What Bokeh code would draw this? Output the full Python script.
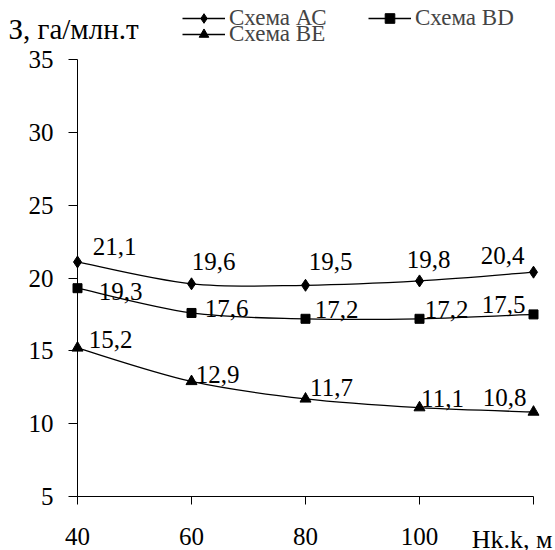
from bokeh.plotting import figure
from bokeh.models import Range1d, FixedTicker, Label, Legend, LegendItem, ColumnDataSource
from bokeh.embed import file_html
from bokeh.resources import INLINE
from bokeh.core.properties import value

# ---- data ----
depth = [40, 60, 80, 100, 120]
scheme_ac = [21.1, 19.6, 19.5, 19.8, 20.4]
scheme_bd = [19.3, 17.6, 17.2, 17.2, 17.5]
scheme_be = [15.2, 12.9, 11.7, 11.1, 10.8]
series_names = ["Схема АС", "Схема BD", "Схема BE"]
x_ticks = [40, 60, 80, 100, 120]
y_ticks = [5, 10, 15, 20, 25, 30, 35]
y_title = "З, га/млн.т"
x_title = "Hk.k, м"

# label placement (screen px offsets of text centre from point, style only)
off_ac = ([37, 22, 25, 9, -31], [-15, -22, -24, -21, -17])
off_bd = ([43, 35, 31, 27, -30], [3, -4, -9, -9, -10])
off_be = ([33, 26, 26, 23, -29], [-8, -7, -11, -9, -15])

FONT = "Liberation Serif"
W, H = 555, 550
# axis box in pixels (layout)
AX_L, AX_R, AX_T, AX_B = 77, 533, 59, 496
X0, X1, Y0, Y1 = 40, 120, 5, 35
sx = (AX_R - AX_L) / (X1 - X0)
sy = (AX_B - AX_T) / (Y1 - Y0)

p = figure(width=W, height=H, title=None,
           x_range=Range1d(X0 - AX_L / sx, X0 + (W - AX_L) / sx),
           y_range=Range1d(Y0 - (H - AX_B) / sy, Y0 + AX_B / sy),
           output_backend="svg", toolbar_location=None,
           min_border_left=0, min_border_right=0, min_border_top=0, min_border_bottom=0)
p.outline_line_color = None
p.xgrid.visible = False
p.ygrid.visible = False
p.background_fill_color = "white"
p.border_fill_color = "white"

for ax in (p.xaxis[0], p.yaxis[0]):
    ax.axis_line_color = "black"
    ax.axis_line_width = 1
    ax.major_tick_line_color = "black"
    ax.major_tick_in = 0
    ax.minor_tick_line_color = None
    ax.major_label_text_font = FONT
    ax.major_label_text_font_size = "25px"
    ax.major_label_text_color = "black"

p.xaxis.ticker = FixedTicker(ticks=x_ticks)
p.xaxis.major_label_overrides = {120: ""}
p.xaxis.major_tick_out = 8
p.xaxis.major_label_standoff = 23
p.xaxis.bounds = (X0, X1)
p.xaxis.fixed_location = Y0
p.yaxis.ticker = FixedTicker(ticks=y_ticks)
p.yaxis.major_tick_out = 9
p.yaxis.major_label_standoff = 15
p.yaxis.bounds = (Y0, Y1)
p.yaxis.fixed_location = X0


def smooth_segments(xs, ys):
    n = len(xs)
    d = dict(x0=[], y0=[], x1=[], y1=[], cx0=[], cy0=[], cx1=[], cy1=[])
    for i in range(n - 1):
        xp, yp = (xs[i - 1], ys[i - 1]) if i > 0 else (xs[i], ys[i])
        xn, yn = (xs[i + 2], ys[i + 2]) if i + 2 < n else (xs[i + 1], ys[i + 1])
        d["x0"].append(xs[i]); d["y0"].append(ys[i])
        d["x1"].append(xs[i + 1]); d["y1"].append(ys[i + 1])
        d["cx0"].append(xs[i] + (xs[i + 1] - xp) / 6.0)
        d["cy0"].append(ys[i] + (ys[i + 1] - yp) / 6.0)
        d["cx1"].append(xs[i + 1] - (xn - xs[i]) / 6.0)
        d["cy1"].append(ys[i + 1] - (yn - ys[i]) / 6.0)
    return ColumnDataSource(d)


items = []
for name, ys, mk, ms, offs in [(series_names[0], scheme_ac, "diamond", 12, off_ac),
                               (series_names[1], scheme_bd, "square", 9, off_bd),
                               (series_names[2], scheme_be, "triangle", 11, off_be)]:
    src = smooth_segments(depth, ys)
    ln = p.bezier(x0="x0", y0="y0", x1="x1", y1="y1", cx0="cx0", cy0="cy0", cx1="cx1", cy1="cy1",
                  source=src, line_color="black", line_width=1.3)
    sc = p.scatter(depth, ys, marker=mk, size=ms, color="black")
    lab_src = ColumnDataSource(dict(x=depth, y=ys,
                                    t=[("%.1f" % v).replace(".", ",") for v in ys],
                                    dx=offs[0], dy=offs[1]))
    p.text(x="x", y="y", text="t", x_offset="dx", y_offset="dy", source=lab_src,
           text_font=value(FONT), text_font_size="25px", text_align="center",
           text_baseline="middle", text_color="black")
    items.append(LegendItem(label=name, renderers=[ln, sc]))

common = dict(orientation="horizontal", padding=0, margin=0, border_line_color=None,
              background_fill_alpha=0, glyph_width=43, glyph_height=24, label_standoff=4,
              label_text_font=FONT, label_text_font_size="23px", label_height=15,
              label_width=100, spacing=39)
leg1 = Legend(items=[items[0], items[1]], location=(182, H - 31), **common)
leg2 = Legend(items=[items[2]], location=(182, H - 47), **common)
p.add_layout(leg1)
p.add_layout(leg2)

p.add_layout(Label(x=X0, y=Y1, x_offset=8 - AX_L, y_offset=AX_T - 28, text=y_title, text_font=FONT,
                   text_font_size="29px", text_align="left", text_baseline="middle",
                   text_color="black"))
p.add_layout(Label(x=X1, y=Y0, x_offset=552 - AX_R, y_offset=AX_B - 539, text=x_title, text_font=FONT,
                   text_font_size="26px", text_align="right", text_baseline="middle",
                   text_color="black"))

open("out.html", "w").write(file_html(p, INLINE))
